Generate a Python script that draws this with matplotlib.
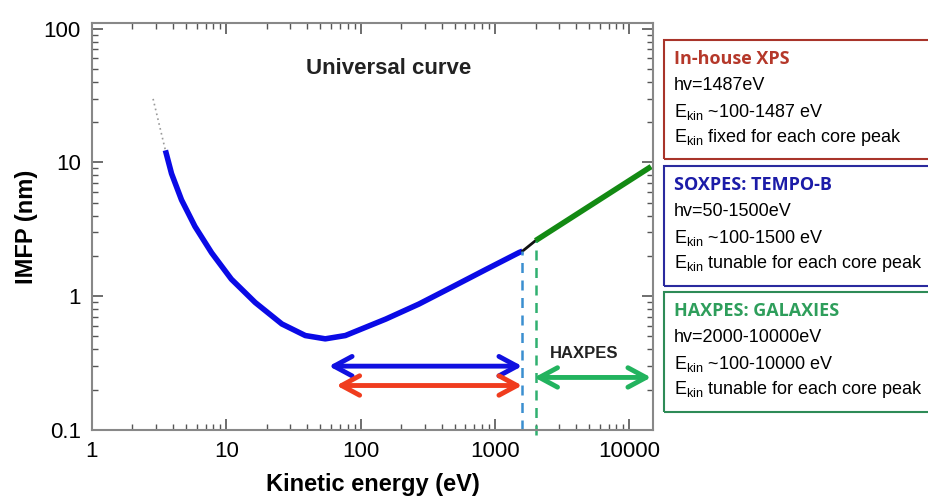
import matplotlib.pyplot as plt
from matplotlib.patches import Rectangle

plt.rcParams['font.family'] = ['Liberation Sans', 'DejaVu Sans']
plt.rcParams['mathtext.fontset'] = 'custom'
plt.rcParams['mathtext.rm'] = 'Liberation Sans'

# universal curve (eV, nm)
e_dot = [2.85, 3.52]
imfp_dot = [29.8, 12.3]
e_blue = [3.52, 3.91, 4.64, 5.84, 7.77, 10.9, 16.4, 25.9, 38.7, 54.5, 76.9,
          154, 271, 478, 857, 1510, 1600]
imfp_blue = [12.3, 8.24, 5.24, 3.32, 2.11, 1.34, 0.897, 0.62, 0.508, 0.48, 0.508,
             0.675, 0.873, 1.17, 1.585, 2.12, 2.17]
e_black = [1600, 2000]
imfp_black = [2.17, 2.6]
e_green = [2000, 14500]
imfp_green = [2.6, 9.3]

# ranges shown by the arrows
soxpes_range = [58, 1590]
xps_range = [66, 1590]
haxpes_range = [1960, 14500]
edge_soxpes = 1600
edge_haxpes = 2000

boxes = [
    ("In-house XPS", "#b5382a", "#a8342a",
     ["hv=1487eV", "E$_\\mathrm{kin}$ ~100-1487 eV", "E$_\\mathrm{kin}$ fixed for each core peak"]),
    ("SOXPES: TEMPO-B", "#1c1ca8", "#2a2a9e",
     ["hv=50-1500eV", "E$_\\mathrm{kin}$ ~100-1500 eV", "E$_\\mathrm{kin}$ tunable for each core peak"]),
    ("HAXPES: GALAXIES", "#2e9e5b", "#2e8b57",
     ["hv=2000-10000eV", "E$_\\mathrm{kin}$ ~100-10000 eV", "E$_\\mathrm{kin}$ tunable for each core peak"]),
]

fig = plt.figure(figsize=(9.29, 5.0), dpi=100)
ax = fig.add_axes([0.099, 0.14, 0.604, 0.814])

ax.plot(e_dot, imfp_dot, color="#999999", lw=1.2, ls=(0, (1, 2)))
ax.plot(e_blue, imfp_blue, color="#0a0ae6", lw=4, solid_capstyle="butt", solid_joinstyle="round")
ax.plot(e_black, imfp_black, color="#111111", lw=2)
ax.plot(e_green, imfp_green, color="#138a13", lw=4, solid_capstyle="butt")

ax.plot([edge_soxpes, edge_soxpes], [0.1, imfp_black[0]], color="#3a8fd0", lw=1.8, ls=(0, (4, 3)))
ax.plot([edge_haxpes, edge_haxpes], [0.092, imfp_black[1]], color="#30b070", lw=1.8,
        ls=(0, (4, 3)), clip_on=False)

arrow_kw = dict(arrowstyle="<->,head_length=1.3,head_width=0.7", lw=3.5, shrinkA=0, shrinkB=0)
ax.annotate("", xy=(soxpes_range[0], 0.30), xytext=(soxpes_range[1], 0.30),
            arrowprops=dict(color="#1010e0", **arrow_kw))
ax.annotate("", xy=(xps_range[0], 0.215), xytext=(xps_range[1], 0.215),
            arrowprops=dict(color="#f03c1e", **arrow_kw))
ax.annotate("", xy=(haxpes_range[0], 0.247), xytext=(haxpes_range[1], 0.247),
            arrowprops=dict(color="#22b35e", **arrow_kw))

ax.text(4600, 0.37, "HAXPES", fontsize=12, fontweight="bold", color="#222222",
        ha="center", va="center")
ax.text(160, 50, "Universal curve", fontsize=16, fontweight="bold", color="#222222",
        ha="center", va="center")

ax.set_xscale("log")
ax.set_yscale("log")
ax.set_xlim(1, 15000)
ax.set_ylim(0.1, 110)
ax.set_xticks([1, 10, 100, 1000, 10000])
ax.set_xticklabels(["1", "10", "100", "1000", "10000"])
ax.set_yticks([0.1, 1, 10, 100])
ax.set_yticklabels(["0.1", "1", "10", "100"])
ax.tick_params(which="both", direction="in", top=True, right=True, colors="#555555",
               labelcolor="black", labelsize=16)
ax.tick_params(which="major", length=8, width=1.2)
ax.tick_params(axis="x", which="major", pad=8)
ax.tick_params(axis="y", which="major", pad=8)
ax.tick_params(which="minor", length=4, width=1.0)
for s in ax.spines.values():
    s.set_color("#888888")
    s.set_linewidth(1.5)

ax.set_xlabel("Kinetic energy (eV)", fontsize=17, fontweight="bold", labelpad=8)
ax.set_ylabel("IMFP (nm)", fontsize=17, fontweight="bold", labelpad=4)

# info boxes on the right, figure pixel coordinates
W, H = 929, 500
box_y = [(40, 159), (166, 286), (292, 412)]
for (title, tcol, ecol, lines), (y0, y1) in zip(boxes, box_y):
    fig.patches.append(Rectangle((664 / W, 1 - y1 / H), 300 / W, (y1 - y0) / H,
                                 transform=fig.transFigure, fill=False,
                                 edgecolor=ecol, lw=1.5))
    fig.text(674 / W, 1 - (y0 + 19) / H, title, fontsize=13, fontweight="bold",
             color=tcol, family=["Open Sans", "DejaVu Sans"], va="center")
    for i, line in enumerate(lines):
        fig.text(674 / W, 1 - (y0 + 46 + 25.5 * i) / H, line, fontsize=13,
                 color="black", va="center")

fig.savefig("out.png", dpi=100)
